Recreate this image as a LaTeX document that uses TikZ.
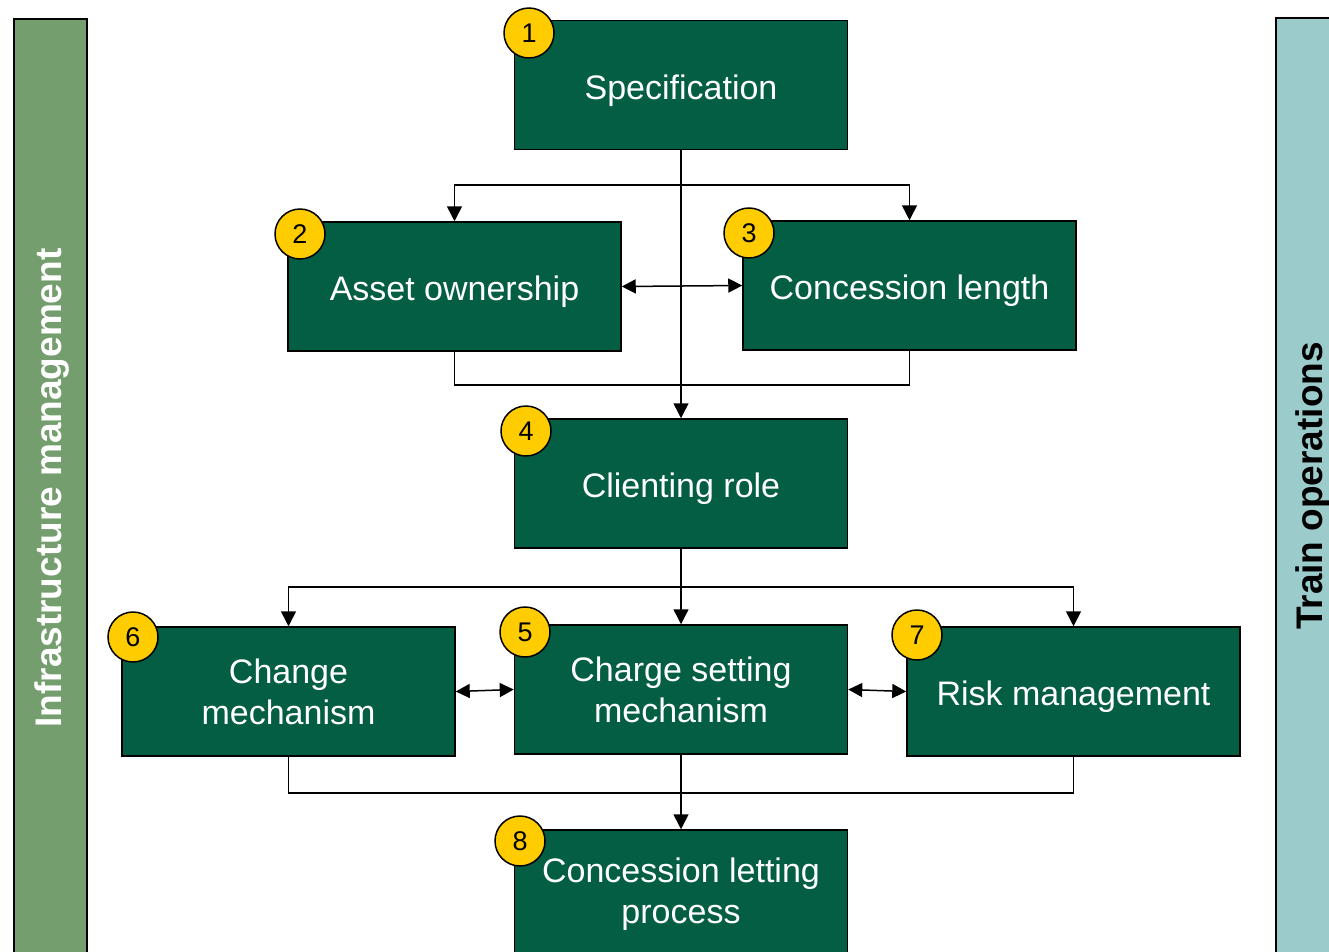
\documentclass[tikz,border=0pt]{standalone}
\usepackage{fontspec}
\setmainfont{Liberation Sans}
\usetikzlibrary{arrows.meta}
\definecolor{boxgreen}{HTML}{035E43}
\definecolor{infrac}{HTML}{759E6E}
\definecolor{trainc}{HTML}{9BCBCB}
\definecolor{badgec}{HTML}{FFCC00}
\tikzset{
  stage/.style={draw=black, line width=1.5pt, fill=boxgreen, text=white,
    minimum width=333, minimum height=129, align=center,
    font=\fontsize{34}{41}\selectfont, inner sep=0pt},
  oneline/.style={text height=28, text depth=0},
  badge/.style={circle, draw=black, line width=1.5pt, fill=badgec,
    minimum size=50, inner sep=0pt, font=\fontsize{27}{27}\selectfont},
  bar/.style={draw=black, line width=1.5pt, anchor=north west},
  barlabel/.style={rotate=90, font=\bfseries\fontsize{37}{37}\selectfont},
  link/.style={line width=1.5pt},
  arr/.style={link, -{Triangle[length=15pt, width=15pt]}},
  dbl/.style={link, {Triangle[length=14pt, width=14pt]}-{Triangle[length=14pt, width=14pt]}}
}
\begin{document}
\begin{tikzpicture}[x=1pt, y=-1pt]
\useasboundingbox (0,0) rectangle (1329,951);
\clip (0,0) rectangle (1329,951);
\fill[white] (0,0) rectangle (1329,951);

% side bands
\node[bar, fill=infrac, minimum width=73, minimum height=960] (infra) at (13,18) {};
\node[barlabel, text=white] (infralabel) at (52,488) {Infrastructure management};
\node[bar, fill=trainc, minimum width=80, minimum height=960] (train) at (1275,17) {};
\node[barlabel, text=black] (trainlabel) at (1313,486) {Train operations};

% stages
\node[stage, oneline] (spec)   at (681,85)    {Specification};
\node[stage, oneline] (asset)  at (454.5,286.5) {Asset ownership};
\node[stage, oneline] (conc)   at (909.5,285.5) {Concession length};
\node[stage, oneline] (client) at (681,483.5) {Clienting role};
\node[stage] (change) at (288.5,691.5) {Change\\mechanism};
\node[stage] (charge) at (681,689.5) {Charge setting\\mechanism};
\node[stage, oneline] (risk)   at (1073.5,691.5) {Risk management};
\node[stage] (let)    at (681,894.5) {Concession letting\\process};

% connectors
\coordinate (split1) at (681,185);
\coordinate (split2) at (681,587);
\draw[arr] (spec.south) -- (client.north);
\draw[arr] (split1) -| (asset.north);
\draw[arr] (split1) -| (conc.north);
\draw[dbl] (asset.east) -- (conc.west);
\draw[link] (asset.south) -- ++(0,33) -| (conc.south);

\draw[arr] (client.south) -- (charge.north);
\draw[arr] (split2) -| (change.north);
\draw[arr] (split2) -| (risk.north);
\draw[dbl] (change.east) -- (charge.west);
\draw[dbl] (charge.east) -- (risk.west);
\draw[link] (change.south) -- ++(0,36) -| (risk.south);
\draw[arr] (charge.south) -- (let.north);

% numbered badges
\node[badge] (b1) at (529,33)  {1};
\node[badge] (b2) at (300,234) {2};
\node[badge] (b3) at (749,233) {3};
\node[badge] (b4) at (526,431) {4};
\node[badge] (b5) at (525,632) {5};
\node[badge] (b6) at (133,637) {6};
\node[badge] (b7) at (917,635) {7};
\node[badge] (b8) at (520,841) {8};
\end{tikzpicture}
\end{document}
